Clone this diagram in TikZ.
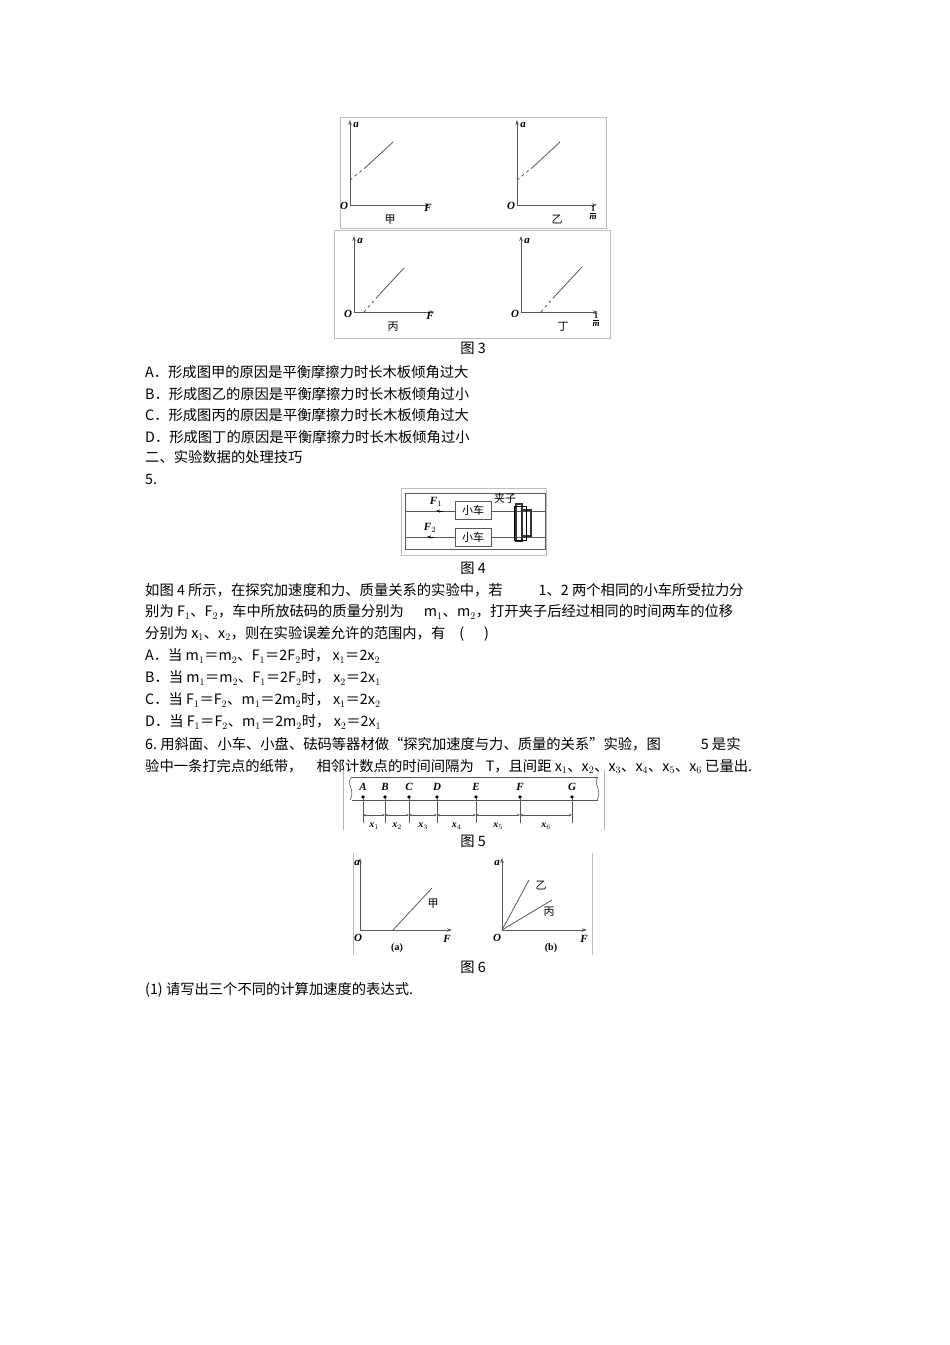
\documentclass[tikz,border=0pt]{standalone}
\usepackage{fontspec}
\setmainfont{Liberation Sans}
\newfontfamily\cjk{Noto Sans CJK SC}
\newfontfamily\serif{Liberation Serif}
\usetikzlibrary{arrows.meta}
\begin{document}
\begin{tikzpicture}[x=1pt,y=-1pt,
  txt/.style={anchor=west,inner sep=0pt,font=\fontsize{14.3}{14}\selectfont\cjk},
  figcap/.style={inner sep=0pt,font=\fontsize{14.3}{14}\selectfont\cjk},
  lab/.style={inner sep=0pt,font=\fontsize{11}{11}\selectfont\serif\bfseries\itshape},
  clab/.style={inner sep=0pt,font=\fontsize{11}{11}\selectfont\cjk},
  ax/.style={line width=0.9pt,gray!70!black,-{Stealth[length=5pt,width=3.5pt]}},
  gl/.style={line width=0.8pt,gray!70!black},
  fr/.style={draw=gray!50,line width=0.5pt}]
\useasboundingbox (0,0) rectangle (950,1345);
\fill[white] (0,0) rectangle (950,1345);
% ---- Figure 3
\draw[fr] (340,117) rectangle (606,228);
\draw[fr] (334,230) rectangle (610,338);
\coordinate (o1) at (350,205);
\draw[ax] (o1) -- (350,120); \draw[ax] (o1) -- (430,205);
\draw[gl,dashed] (350,180) -- (366,167); \draw[gl] (366,167) -- (393,142);
\node[lab] at (356,125) {a}; \node[lab] at (344,206) {O}; \node[lab] at (428,208) {F}; \node[clab] at (390,220) {甲};
\coordinate (o2) at (517,205);
\draw[ax] (o2) -- (517,120); \draw[ax] (o2) -- (597,205);
\draw[gl,dashed] (517,180) -- (533,167); \draw[gl] (533,167) -- (560,142);
\node[lab] at (523,125) {a}; \node[lab] at (511,206) {O}; \node[clab] at (557,220) {乙};
\node[lab,font=\fontsize{8}{8}\selectfont\serif\bfseries] at (593,209) {1};
\draw[line width=0.6pt] (590,213) -- (596,213);
\node[lab,font=\fontsize{9}{9}\selectfont\serif\bfseries\itshape] at (593,217.5) {m};
\coordinate (o3) at (354,312);
\draw[ax] (o3) -- (354,236); \draw[ax] (o3) -- (434,312);
\draw[gl,dashed] (364,312) -- (378,296); \draw[gl] (378,296) -- (404,268);
\node[lab] at (360,241) {a}; \node[lab] at (348,314) {O}; \node[lab] at (430,316) {F}; \node[clab] at (393,327) {丙};
\coordinate (o4) at (521,312);
\draw[ax] (o4) -- (521,236); \draw[ax] (o4) -- (598,312);
\draw[gl,dashed] (541,312) -- (555,296); \draw[gl] (555,296) -- (582,267);
\node[lab] at (527,241) {a}; \node[lab] at (515,314) {O}; \node[clab] at (563,327) {丁};
\node[lab,font=\fontsize{8}{8}\selectfont\serif\bfseries] at (596,316) {1};
\draw[line width=0.6pt] (593,320) -- (599,320);
\node[lab,font=\fontsize{9}{9}\selectfont\serif\bfseries\itshape] at (596,324.5) {m};
\node[figcap] at (473,348) {图 3};
\node[txt] at (145,372) {A．形成图甲的原因是平衡摩擦力时长木板倾角过大};
\node[txt] at (145,394) {B．形成图乙的原因是平衡摩擦力时长木板倾角过小};
\node[txt] at (145,415) {C．形成图丙的原因是平衡摩擦力时长木板倾角过大};
\node[txt] at (145,437) {D．形成图丁的原因是平衡摩擦力时长木板倾角过小};
\node[txt] at (145,457) {二、实验数据的处理技巧};
\node[txt] at (145,479) {5.};
% ---- Figure 4
\draw[fr] (401,488) rectangle (546,555);
\draw[gl,line width=0.6pt] (405,493) rectangle (545,549);
\draw[gl,line width=0.6pt] (405,511) -- (455,511) (491,511) -- (545,511);
\draw[gl,line width=0.6pt] (405,537) -- (455,537) (491,537) -- (545,537);
\node[draw=gray!70!black,minimum width=36pt,minimum height=18pt,inner sep=0pt,font=\fontsize{11}{11}\selectfont\cjk] (car1) at (473,510) {小车};
\node[draw=gray!70!black,minimum width=36pt,minimum height=18pt,inner sep=0pt,font=\fontsize{11}{11}\selectfont\cjk] (car2) at (473,537) {小车};
\draw[-{Stealth[length=4pt,width=3pt]},black] (443,511) -- (436,511);
\draw[-{Stealth[length=4pt,width=3pt]},black] (434,537) -- (427,537);
\node[lab] at (436,502) {F$_1$}; \node[lab] at (430,528) {F$_2$};
\node[inner sep=0pt,font=\fontsize{11}{11}\selectfont\cjk] at (505,498) {夹子};
\draw[line width=1.5pt,black!80] (516,504) rectangle (522,541) (522,510) rectangle (531,536);
\draw[line width=0.8pt] (514,506) rectangle (526,540);
\node[figcap] at (473,568) {图 4};
\node[txt] at (145,590) {如图\ 4 所示，在探究加速度和力、质量关系的实验中，若\hspace{36pt}1、2 两个相同的小车所受拉力分};
\node[txt] at (145,612) {别为\ F$_1$、F$_2$，车中所放砝码的质量分别为\hspace{20pt}m$_1$、m$_2$，打开夹子后经过相同的时间两车的位移};
\node[txt] at (145,634) {分别为\ x$_1$、x$_2$，则在实验误差允许的范围内，有\hspace{14pt}(\hspace{20pt})};
\node[txt] at (145,656) {A．当\ m$_1$＝m$_2$、F$_1$＝2F$_2$时，\ x$_1$＝2x$_2$};
\node[txt] at (145,678) {B．当\ m$_1$＝m$_2$、F$_1$＝2F$_2$时，\ x$_2$＝2x$_1$};
\node[txt] at (145,700) {C．当\ F$_1$＝F$_2$、m$_1$＝2m$_2$时，\ x$_1$＝2x$_2$};
\node[txt] at (145,722) {D．当\ F$_1$＝F$_2$、m$_1$＝2m$_2$时，\ x$_2$＝2x$_1$};
\node[txt] at (145,744) {6.\ 用斜面、小车、小盘、砝码等器材做“探究加速度与力、质量的关系”实验，图\hspace{40pt}5 是实};
\node[txt] at (145,766) {验中一条打完点的纸带，\hspace{14pt}相邻计数点的时间间隔为\hspace{12pt}T，且间距\ x$_1$、x$_2$、x$_3$、x$_4$、x$_5$、x$_6$ 已量出.};
% ---- Figure 5
\draw[gray!60,line width=0.5pt] (343,770) -- (343,830) (604,770) -- (604,830);
\draw[gl,line width=0.6pt] (352,777) -- (598,777) (352,800) -- (598,800);
\draw[gl,line width=0.6pt] (352,777) .. controls (345,783) and (356,790) .. (350,800);
\draw[gl,line width=0.6pt] (598,777) .. controls (592,783) and (603,790) .. (597,800);
\foreach \n/\x in {A/363,B/385,C/409,D/437,E/476,F/520,G/572}{
  \fill (\x,797) circle (1.8pt);
  \node[lab,font=\fontsize{11}{11}\selectfont\serif\bfseries\itshape] (p\n) at (\x,787) {\n};
  \draw[gl,line width=0.7pt] (\x,799) -- (\x,823);
}
\foreach \a/\b/\i in {363/385/1,385/409/2,409/437/3,437/476/4,476/520/5,520/572/6}{
  \draw[gl,line width=0.5pt,{Stealth[length=3pt,width=2.5pt]}-{Stealth[length=3pt,width=2.5pt]}] (\a,815) -- (\b,815);
  \node[lab,font=\fontsize{10}{10}\selectfont\serif\bfseries\itshape] at ({(\a+\b)/2},826) {x$_{\i}$};
}
\node[figcap] at (473,841) {图 5};
% ---- Figure 6
\draw[fr] (353,853) -- (353,955) (592,853) -- (592,955);
\coordinate (oa) at (360,930);
\draw[ax] (oa) -- (360,858); \draw[ax] (oa) -- (452,930);
\draw[gl] (393,930) -- (432,888);
\node[lab] at (357,863) {a}; \node[lab] at (358,938) {O}; \node[lab] at (447,939) {F};
\node[clab] at (433,904) {甲};
\node[inner sep=0pt,font=\fontsize{10}{10}\selectfont\serif\bfseries] at (397,948) {(a)};
\coordinate (ob) at (502,930);
\draw[ax] (ob) -- (502,858); \draw[ax] (ob) -- (587,930);
\draw[gl] (ob) -- (529,880); \draw[gl] (ob) -- (552,900);
\node[lab] at (497,863) {a}; \node[lab] at (497,938) {O}; \node[lab] at (584,939) {F};
\node[clab] at (541,886) {乙}; \node[clab] at (549,912) {丙};
\node[inner sep=0pt,font=\fontsize{10}{10}\selectfont\serif\bfseries] at (551,948) {(b)};
\node[figcap] at (473,967) {图 6};
\node[txt] at (145,990) {(1)\ 请写出三个不同的计算加速度的表达式.};
\end{tikzpicture}
\end{document}
